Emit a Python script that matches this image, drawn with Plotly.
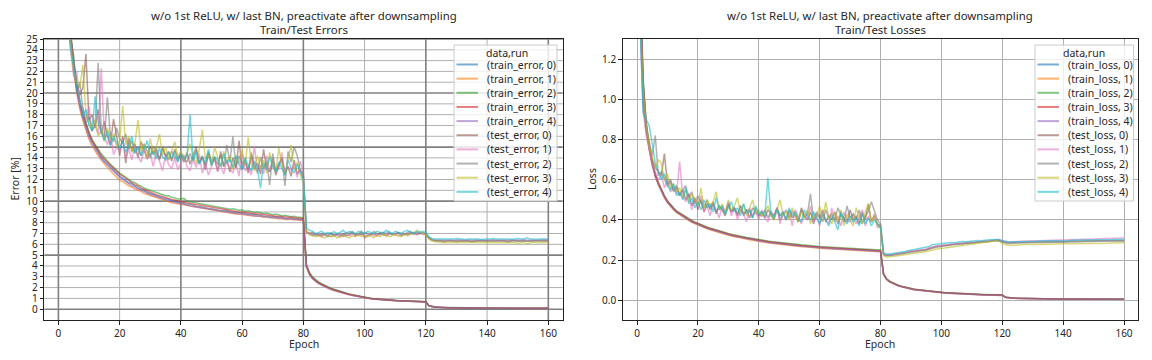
import plotly.graph_objects as go

# ---------------- data ----------------
epochs = list(range(1, 161))

tr_err_0 = [55.2, 38.3, 29.8, 25.2, 22.4, 20.4, 18.9, 17.8, 16.9, 16.1, 15.5, 15.0, 14.5, 14.1, 13.7, 13.4, 13.1, 12.8, 12.6, 12.3,
            12.1, 11.9, 11.7, 11.6, 11.4, 11.2, 11.1, 11.0, 10.8, 10.7, 10.6, 10.5, 10.4, 10.3, 10.2, 10.2, 10.0, 10.0, 9.9, 9.8,
            9.82, 9.7, 9.72, 9.6, 9.52, 9.5, 9.42, 9.4, 9.32, 9.3, 9.22, 9.2, 9.12, 9.1, 9.1, 9.02, 9.0, 8.92, 8.9, 8.9,
            8.82, 8.8, 8.8, 8.72, 8.7, 8.7, 8.62, 8.6, 8.6, 8.52, 8.5, 8.5, 8.48, 8.4, 8.42, 8.4, 8.38, 8.3, 8.32, 8.3,
            4.1, 3.3, 2.9, 2.65, 2.45, 2.3, 2.15, 2.0, 1.9, 1.8, 1.7, 1.6, 1.52, 1.44, 1.37, 1.3, 1.24, 1.18, 1.12, 1.07,
            1.03, 0.99, 0.95, 0.92, 0.9, 0.88, 0.85, 0.83, 0.82, 0.8, 0.79, 0.77, 0.76, 0.75, 0.73, 0.72, 0.71, 0.7, 0.69, 0.68,
            0.32, 0.24, 0.2, 0.18, 0.16, 0.15, 0.14, 0.13, 0.13, 0.12, 0.12, 0.11, 0.11, 0.11, 0.1, 0.1, 0.1, 0.1, 0.1, 0.09,
            0.09, 0.09, 0.09, 0.09, 0.09, 0.09, 0.09, 0.08, 0.08, 0.08, 0.08, 0.08, 0.08, 0.08, 0.08, 0.08, 0.08, 0.08, 0.08, 0.08]
tr_err_1 = [54.5, 37.6, 29.2, 24.7, 22.0, 20.0, 18.5, 17.4, 16.5, 15.7, 15.1, 14.6, 14.2, 13.8, 13.4, 13.1, 12.8, 12.5, 12.2, 11.9,
            11.8, 11.6, 11.4, 11.3, 11.1, 11.0, 10.9, 10.7, 10.6, 10.5, 10.4, 10.3, 10.2, 10.1, 10.0, 9.95, 9.85, 9.8, 9.75, 9.7,
            9.6, 9.55, 9.5, 9.45, 9.4, 9.35, 9.3, 9.25, 9.2, 9.15, 9.1, 9.05, 9.0, 9.0, 8.95, 8.9, 8.85, 8.8, 8.8, 8.75,
            8.7, 8.7, 8.65, 8.6, 8.65, 8.55, 8.5, 8.55, 8.45, 8.45, 8.4, 8.35, 8.4, 8.3, 8.3, 8.35, 8.25, 8.3, 8.2, 8.25,
            3.9, 3.2, 2.85, 2.6, 2.4, 2.25, 2.1, 1.95, 1.85, 1.75, 1.65, 1.57, 1.49, 1.41, 1.34, 1.28, 1.22, 1.16, 1.1, 1.05,
            1.0, 0.97, 0.94, 0.91, 0.88, 0.86, 0.84, 0.82, 0.8, 0.79, 0.77, 0.76, 0.74, 0.73, 0.72, 0.71, 0.7, 0.69, 0.68, 0.67,
            0.31, 0.23, 0.19, 0.17, 0.15, 0.14, 0.13, 0.13, 0.12, 0.12, 0.11, 0.11, 0.1, 0.1, 0.1, 0.1, 0.09, 0.09, 0.09, 0.09,
            0.09, 0.09, 0.09, 0.08, 0.08, 0.08, 0.08, 0.08, 0.08, 0.08, 0.08, 0.08, 0.08, 0.07, 0.07, 0.07, 0.07, 0.07, 0.07, 0.07]
tr_err_2 = [55.8, 38.8, 30.2, 25.6, 22.8, 20.7, 19.2, 18.1, 17.2, 16.4, 15.7, 15.2, 14.8, 14.4, 14.0, 13.7, 13.4, 13.1, 12.8, 12.6,
            12.4, 12.2, 12.0, 11.8, 11.7, 11.5, 11.4, 11.2, 11.1, 11.0, 10.9, 10.8, 10.7, 10.6, 10.5, 10.5, 10.35, 10.3, 10.2, 10.2,
            10.25, 10.0, 9.95, 9.9, 9.85, 9.75, 9.75, 9.65, 9.6, 9.6, 9.5, 9.5, 9.4, 9.35, 9.35, 9.25, 9.3, 9.2, 9.15, 9.2,
            9.05, 9.1, 9.0, 8.95, 9.0, 8.9, 8.85, 8.9, 8.8, 8.75, 8.8, 8.7, 8.65, 8.7, 8.6, 8.55, 8.6, 8.5, 8.5, 8.45,
            4.1, 3.4, 3.0, 2.7, 2.5, 2.35, 2.2, 2.05, 1.95, 1.85, 1.75, 1.65, 1.56, 1.48, 1.4, 1.33, 1.27, 1.21, 1.15, 1.1,
            1.05, 1.01, 0.97, 0.95, 0.92, 0.9, 0.88, 0.86, 0.84, 0.83, 0.81, 0.8, 0.78, 0.77, 0.76, 0.75, 0.74, 0.73, 0.72, 0.71,
            0.33, 0.25, 0.21, 0.18, 0.17, 0.16, 0.15, 0.14, 0.13, 0.13, 0.12, 0.12, 0.11, 0.11, 0.11, 0.1, 0.1, 0.1, 0.1, 0.1,
            0.09, 0.09, 0.09, 0.09, 0.09, 0.09, 0.09, 0.09, 0.09, 0.08, 0.08, 0.08, 0.08, 0.08, 0.08, 0.08, 0.08, 0.08, 0.08, 0.08]
tr_err_3 = [55.5, 38.5, 30.0, 25.4, 22.6, 20.6, 19.1, 18.0, 17.1, 16.3, 15.6, 15.1, 14.6, 14.2, 13.9, 13.6, 13.3, 13.0, 12.7, 12.5,
            12.3, 12.1, 11.9, 11.7, 11.5, 11.4, 11.2, 11.1, 10.95, 10.85, 10.7, 10.6, 10.5, 10.45, 10.3, 10.25, 10.15, 10.1, 10.0, 9.95,
            9.9, 9.85, 9.75, 9.7, 9.65, 9.6, 9.55, 9.5, 9.45, 9.4, 9.35, 9.3, 9.25, 9.25, 9.15, 9.15, 9.1, 9.05, 9.0, 9.0,
            8.95, 8.9, 8.9, 8.85, 8.8, 8.8, 8.75, 8.7, 8.7, 8.65, 8.6, 8.6, 8.55, 8.55, 8.5, 8.5, 8.45, 8.45, 8.4, 8.4,
            4.0, 3.3, 2.9, 2.65, 2.45, 2.3, 2.15, 2.0, 1.9, 1.8, 1.7, 1.61, 1.53, 1.45, 1.38, 1.31, 1.25, 1.19, 1.13, 1.08,
            1.03, 0.99, 0.96, 0.93, 0.9, 0.88, 0.86, 0.84, 0.82, 0.8, 0.79, 0.77, 0.76, 0.75, 0.74, 0.73, 0.72, 0.71, 0.7, 0.69,
            0.32, 0.24, 0.2, 0.18, 0.16, 0.15, 0.14, 0.13, 0.13, 0.12, 0.12, 0.11, 0.11, 0.1, 0.1, 0.1, 0.1, 0.1, 0.09, 0.09,
            0.09, 0.09, 0.09, 0.09, 0.09, 0.08, 0.08, 0.08, 0.08, 0.08, 0.08, 0.08, 0.08, 0.08, 0.08, 0.08, 0.08, 0.08, 0.08, 0.08]
tr_err_4 = [55.0, 38.0, 29.6, 25.0, 22.2, 20.2, 18.7, 17.6, 16.7, 15.9, 15.3, 14.8, 14.3, 13.9, 13.6, 13.3, 13.0, 12.7, 12.4, 12.2,
            12.0, 11.8, 11.6, 11.4, 11.3, 11.1, 11.0, 10.9, 10.75, 10.6, 10.5, 10.4, 10.3, 10.2, 10.15, 10.05, 9.95, 9.9, 9.8, 9.75,
            9.7, 9.6, 9.55, 9.5, 9.45, 9.4, 9.35, 9.3, 9.25, 9.2, 9.15, 9.1, 9.05, 9.0, 9.0, 8.95, 8.9, 8.85, 8.8, 8.8,
            8.75, 8.7, 8.7, 8.65, 8.6, 8.6, 8.55, 8.5, 8.5, 8.45, 8.45, 8.4, 8.4, 8.35, 8.35, 8.3, 8.3, 8.3, 8.25, 8.25,
            3.9, 3.2, 2.8, 2.55, 2.35, 2.2, 2.05, 1.92, 1.82, 1.72, 1.63, 1.55, 1.47, 1.4, 1.33, 1.27, 1.21, 1.15, 1.1, 1.05,
            1.0, 0.96, 0.93, 0.9, 0.88, 0.85, 0.83, 0.81, 0.8, 0.78, 0.77, 0.75, 0.74, 0.73, 0.72, 0.7, 0.69, 0.68, 0.67, 0.66,
            0.3, 0.23, 0.19, 0.17, 0.15, 0.14, 0.13, 0.12, 0.12, 0.11, 0.11, 0.1, 0.1, 0.1, 0.1, 0.09, 0.09, 0.09, 0.09, 0.09,
            0.09, 0.08, 0.08, 0.08, 0.08, 0.08, 0.08, 0.08, 0.08, 0.08, 0.08, 0.07, 0.07, 0.07, 0.07, 0.07, 0.07, 0.07, 0.07, 0.07]

te_err_0 = [48.0, 33.5, 27.0, 25.5, 23.0, 21.0, 19.8, 20.5, 23.6, 17.5, 18.0, 16.8, 18.5, 16.2, 17.4, 16.0, 15.2, 17.6, 16.1, 14.2,
            16.0, 13.5, 15.8, 14.6, 15.3, 14.0, 15.5, 14.8, 13.9, 15.1, 14.3, 14.9, 13.8, 15.0, 14.1, 14.6, 13.7, 14.8, 14.0, 14.3,
            13.6, 14.5, 13.4, 14.2, 15.0, 13.5, 14.1, 12.9, 14.4, 13.3, 13.9, 12.8, 14.6, 13.2, 13.8, 12.7, 14.0, 13.1, 15.6, 12.9,
            13.7, 12.6, 14.2, 13.0, 13.5, 12.5, 14.8, 13.1, 12.7, 13.9, 12.4, 13.3, 14.0, 12.6, 13.2, 12.3, 13.8, 12.5, 12.9, 12.2,
            7.2, 7.0, 7.1, 6.9, 6.8, 7.0, 6.9, 6.7, 7.0, 6.8, 6.9, 6.7, 7.0, 6.8, 6.9, 7.1, 6.8, 6.9, 7.2, 6.6,
            6.8, 6.9, 7.0, 6.8, 7.1, 6.9, 6.8, 7.0, 7.0, 6.9, 7.1, 6.8, 7.0, 6.9, 7.0, 7.1, 6.9, 7.0, 7.0, 6.9,
            6.6, 6.4, 6.3, 6.35, 6.3, 6.25, 6.3, 6.35, 6.3, 6.25, 6.3, 6.3, 6.35, 6.3, 6.25, 6.3, 6.3, 6.35, 6.3, 6.3,
            6.25, 6.3, 6.3, 6.35, 6.3, 6.3, 6.25, 6.3, 6.35, 6.3, 6.3, 6.3, 6.25, 6.3, 6.3, 6.35, 6.3, 6.3, 6.3, 6.3]
te_err_1 = [46.0, 32.0, 26.5, 24.0, 21.5, 22.0, 19.0, 18.6, 17.5, 18.8, 16.5, 17.0, 16.2, 22.3, 16.0, 15.2, 16.4, 14.3, 15.0, 14.6,
            15.8, 14.0, 14.8, 13.8, 15.2, 14.1, 13.6, 14.7, 13.9, 14.4, 13.2, 14.6, 13.8, 12.8, 14.2, 13.4, 13.0, 14.0, 12.9, 13.5,
            14.3, 13.2, 12.8, 13.9, 13.1, 14.4, 12.6, 13.6, 12.4, 13.2, 14.1, 12.7, 13.4, 12.5, 13.8, 13.0, 12.6, 13.5, 12.3, 14.4,
            12.8, 13.1, 12.4, 15.1, 12.9, 13.3, 12.5, 14.2, 12.7, 13.6, 12.6, 13.0, 14.5, 12.4, 13.2, 12.8, 13.5, 12.2, 13.7, 12.5,
            7.1, 7.0, 6.9, 6.8, 7.0, 6.7, 6.9, 6.8, 6.7, 6.9, 6.8, 7.0, 6.7, 6.9, 6.8, 6.9, 7.0, 6.8, 6.9, 6.8,
            7.0, 6.9, 6.8, 7.0, 6.9, 7.1, 6.8, 6.9, 7.0, 6.9, 6.8, 7.0, 7.0, 6.9, 7.1, 6.9, 7.0, 7.1, 6.9, 6.9,
            6.6, 6.45, 6.4, 6.4, 6.35, 6.4, 6.4, 6.35, 6.4, 6.4, 6.45, 6.4, 6.35, 6.4, 6.4, 6.45, 6.4, 6.4, 6.35, 6.4,
            6.4, 6.45, 6.4, 6.4, 6.4, 6.35, 6.4, 6.45, 6.4, 6.4, 6.4, 6.45, 6.4, 6.4, 6.35, 6.4, 6.4, 6.45, 6.4, 6.4]
te_err_2 = [49.0, 34.0, 28.0, 25.0, 23.5, 20.0, 21.0, 18.5, 17.2, 17.8, 16.5, 17.0, 22.8, 16.6, 15.8, 19.6, 16.0, 15.5, 16.8, 15.8,
            15.4, 16.2, 14.8, 15.6, 14.5, 15.0, 14.2, 15.3, 14.6, 14.0, 15.1, 14.4, 13.9, 14.8, 14.3, 13.8, 14.6, 14.1, 13.7, 14.5,
            14.0, 13.6, 14.4, 13.8, 14.7, 13.5, 14.2, 13.3, 14.6, 13.7, 14.0, 13.4, 14.3, 13.2, 15.2, 13.6, 16.0, 13.1, 14.2, 13.5,
            13.8, 12.9, 14.5, 13.3, 12.6, 14.1, 13.0, 13.7, 11.5, 14.4, 12.8, 13.4, 14.0, 11.4, 14.6, 13.6, 15.0, 14.2, 12.8, 12.6,
            7.1, 7.0, 6.8, 7.0, 6.9, 6.8, 7.0, 6.9, 7.1, 6.8, 7.0, 6.9, 6.8, 7.1, 7.0, 7.2, 6.9, 7.0, 6.9, 7.1,
            7.0, 6.9, 7.2, 7.0, 6.9, 7.1, 7.0, 7.2, 6.9, 7.0, 7.1, 7.0, 6.9, 7.1, 7.2, 7.0, 7.1, 7.0, 7.1, 7.0,
            6.6, 6.4, 6.35, 6.3, 6.35, 6.3, 6.3, 6.35, 6.3, 6.35, 6.3, 6.3, 6.35, 6.3, 6.3, 6.35, 6.3, 6.3, 6.35, 6.3,
            6.3, 6.35, 6.3, 6.3, 6.35, 6.3, 6.3, 6.35, 6.3, 6.3, 6.3, 6.35, 6.3, 6.3, 6.35, 6.3, 6.3, 6.3, 6.35, 6.35]
te_err_3 = [47.0, 33.0, 27.5, 24.5, 22.0, 21.0, 20.5, 22.6, 18.0, 17.2, 16.8, 17.5, 16.0, 16.6, 15.5, 16.8, 15.8, 16.2, 15.0, 15.6,
            18.8, 15.2, 16.0, 14.5, 15.4, 17.5, 14.6, 15.2, 14.0, 15.8, 14.4, 15.0, 16.2, 14.2, 15.0, 13.9, 14.7, 15.5, 14.2, 14.6,
            13.8, 14.4, 15.3, 14.1, 13.5, 14.8, 16.6, 13.9, 14.3, 13.4, 15.0, 14.0, 13.2, 14.6, 13.6, 14.2, 12.9, 14.0, 13.5, 14.8,
            13.3, 15.9, 13.6, 12.8, 14.2, 13.0, 13.8, 12.6, 14.5, 13.2, 12.7, 14.9, 13.4, 12.5, 13.9, 15.2, 12.9, 13.6, 12.4, 11.8,
            7.1, 6.9, 6.8, 6.7, 6.8, 6.7, 6.6, 6.8, 6.7, 6.8, 6.6, 6.7, 6.8, 6.7, 6.6, 6.8, 6.7, 6.9, 6.7, 6.8,
            6.7, 6.8, 6.6, 6.8, 6.7, 6.9, 6.8, 6.7, 6.8, 6.9, 6.8, 6.7, 6.9, 6.8, 6.9, 7.0, 7.3, 7.2, 7.0, 6.9,
            6.5, 6.3, 6.25, 6.2, 6.2, 6.15, 6.2, 6.2, 6.15, 6.2, 6.2, 6.15, 6.2, 6.2, 6.2, 6.15, 6.2, 6.15, 6.2, 6.2,
            6.15, 6.2, 6.2, 6.15, 6.2, 6.2, 6.15, 6.2, 6.15, 6.1, 6.15, 6.2, 6.05, 6.15, 6.2, 6.15, 6.2, 6.15, 6.15, 6.2]
te_err_4 = [47.5, 33.5, 27.0, 24.0, 22.5, 20.5, 19.5, 17.8, 18.5, 17.0, 16.5, 19.7, 17.2, 16.3, 15.6, 16.5, 15.1, 16.0, 15.4, 14.8,
            15.6, 14.5, 15.2, 16.0, 14.4, 15.0, 14.2, 14.8, 15.6, 14.3, 14.6, 13.9, 14.9, 14.1, 13.8, 14.5, 14.0, 14.6, 13.6, 14.3,
            13.9, 14.2, 18.0, 13.7, 14.5, 13.4, 14.0, 13.6, 14.8, 13.3, 14.1, 13.8, 13.2, 14.4, 13.5, 13.9, 13.1, 14.2, 13.4, 12.9,
            14.0, 13.3, 12.8, 13.7, 13.0, 11.2, 13.5, 12.9, 14.1, 13.2, 12.7, 13.6, 13.0, 12.4, 13.8, 13.1, 12.6, 13.4, 12.7, 12.0,
            7.5, 7.3, 7.2, 7.0, 7.1, 7.2, 7.0, 7.1, 6.9, 7.2, 7.0, 7.1, 7.3, 7.0, 7.2, 7.1, 7.0, 7.2, 7.1, 7.0,
            7.2, 7.1, 7.0, 7.2, 7.1, 7.0, 7.3, 7.1, 7.0, 7.2, 7.1, 7.0, 7.2, 7.3, 7.1, 7.0, 7.2, 7.1, 7.2, 7.1,
            6.7, 6.55, 6.5, 6.5, 6.45, 6.5, 6.5, 6.45, 6.5, 6.55, 6.5, 6.5, 6.45, 6.5, 6.5, 6.55, 6.5, 6.45, 6.5, 6.5,
            6.5, 6.55, 6.5, 6.5, 6.55, 6.5, 6.5, 6.45, 6.5, 6.55, 6.5, 6.5, 6.6, 6.5, 6.5, 6.45, 6.5, 6.5, 6.55, 6.5]

tr_loss_0 = [1.58, 1.08, 0.87, 0.76, 0.68, 0.62, 0.58, 0.545, 0.515, 0.49, 0.47, 0.455, 0.44, 0.43, 0.42, 0.41, 0.40, 0.392, 0.385, 0.378,
             0.372, 0.366, 0.36, 0.355, 0.35, 0.345, 0.34, 0.336, 0.332, 0.328, 0.324, 0.32, 0.317, 0.314, 0.311, 0.308, 0.305, 0.302, 0.30, 0.297,
             0.295, 0.292, 0.29, 0.288, 0.286, 0.284, 0.282, 0.28, 0.278, 0.277, 0.275, 0.274, 0.272, 0.271, 0.27, 0.268, 0.267, 0.266, 0.265, 0.263,
             0.262, 0.261, 0.26, 0.259, 0.258, 0.257, 0.256, 0.255, 0.254, 0.253, 0.252, 0.251, 0.25, 0.25, 0.249, 0.248, 0.247, 0.247, 0.246, 0.245,
             0.13, 0.105, 0.093, 0.085, 0.078, 0.072, 0.068, 0.064, 0.06, 0.057, 0.054, 0.052, 0.05, 0.048, 0.046, 0.044, 0.043, 0.041, 0.04, 0.038,
             0.037, 0.036, 0.035, 0.034, 0.033, 0.032, 0.031, 0.031, 0.03, 0.029, 0.029, 0.028, 0.028, 0.027, 0.027, 0.026, 0.026, 0.025, 0.025, 0.025,
             0.015, 0.012, 0.011, 0.010, 0.0095, 0.009, 0.0085, 0.008, 0.008, 0.0078, 0.0075, 0.0073, 0.007, 0.007, 0.0068, 0.0066, 0.0065, 0.0064, 0.0063, 0.0062,
             0.0061, 0.006, 0.006, 0.0059, 0.0059, 0.0058, 0.0058, 0.0057, 0.0057, 0.0057, 0.0056, 0.0056, 0.0056, 0.0055, 0.0055, 0.0055, 0.0055, 0.0054, 0.0054, 0.0054]
tr_loss_1 = [1.55, 1.06, 0.86, 0.75, 0.67, 0.615, 0.575, 0.54, 0.51, 0.485, 0.465, 0.45, 0.436, 0.425, 0.415, 0.405, 0.396, 0.388, 0.381, 0.374,
             0.368, 0.362, 0.356, 0.351, 0.346, 0.341, 0.336, 0.332, 0.328, 0.324, 0.32, 0.316, 0.313, 0.31, 0.307, 0.304, 0.301, 0.298, 0.296, 0.293,
             0.291, 0.288, 0.286, 0.284, 0.282, 0.28, 0.278, 0.276, 0.274, 0.273, 0.271, 0.27, 0.268, 0.267, 0.266, 0.264, 0.263, 0.262, 0.261, 0.259,
             0.258, 0.257, 0.256, 0.255, 0.254, 0.253, 0.252, 0.251, 0.25, 0.249, 0.248, 0.247, 0.246, 0.246, 0.245, 0.244, 0.243, 0.243, 0.242, 0.241,
             0.128, 0.103, 0.091, 0.083, 0.076, 0.071, 0.067, 0.063, 0.059, 0.056, 0.053, 0.051, 0.049, 0.047, 0.045, 0.043, 0.042, 0.04, 0.039, 0.037,
             0.036, 0.035, 0.034, 0.033, 0.032, 0.031, 0.031, 0.03, 0.029, 0.029, 0.028, 0.028, 0.027, 0.027, 0.026, 0.026, 0.025, 0.025, 0.024, 0.024,
             0.014, 0.012, 0.0105, 0.0098, 0.0092, 0.0088, 0.0083, 0.0079, 0.0077, 0.0075, 0.0073, 0.0071, 0.0069, 0.0068, 0.0066, 0.0065, 0.0064, 0.0063, 0.0062, 0.0061,
             0.006, 0.0059, 0.0059, 0.0058, 0.0058, 0.0057, 0.0057, 0.0056, 0.0056, 0.0056, 0.0055, 0.0055, 0.0055, 0.0054, 0.0054, 0.0054, 0.0054, 0.0053, 0.0053, 0.0053]
tr_loss_2 = [1.62, 1.11, 0.89, 0.775, 0.69, 0.63, 0.587, 0.552, 0.521, 0.496, 0.475, 0.46, 0.445, 0.435, 0.425, 0.415, 0.405, 0.397, 0.39, 0.383,
             0.377, 0.371, 0.365, 0.36, 0.355, 0.35, 0.345, 0.341, 0.337, 0.333, 0.329, 0.325, 0.322, 0.319, 0.316, 0.313, 0.31, 0.307, 0.305, 0.302,
             0.3, 0.297, 0.295, 0.293, 0.291, 0.289, 0.287, 0.285, 0.283, 0.282, 0.28, 0.279, 0.277, 0.276, 0.275, 0.273, 0.272, 0.271, 0.27, 0.268,
             0.267, 0.266, 0.265, 0.264, 0.263, 0.262, 0.261, 0.26, 0.259, 0.258, 0.257, 0.256, 0.255, 0.255, 0.254, 0.253, 0.252, 0.252, 0.251, 0.25,
             0.132, 0.107, 0.095, 0.087, 0.08, 0.074, 0.07, 0.066, 0.062, 0.059, 0.056, 0.054, 0.052, 0.05, 0.048, 0.046, 0.045, 0.043, 0.042, 0.04,
             0.039, 0.038, 0.037, 0.036, 0.035, 0.034, 0.033, 0.033, 0.032, 0.031, 0.031, 0.03, 0.03, 0.029, 0.029, 0.028, 0.028, 0.027, 0.027, 0.027,
             0.016, 0.013, 0.0115, 0.0105, 0.0099, 0.0094, 0.0089, 0.0084, 0.0083, 0.008, 0.0078, 0.0076, 0.0073, 0.0072, 0.007, 0.0069, 0.0068, 0.0067, 0.0066, 0.0065,
             0.0064, 0.0063, 0.0062, 0.0062, 0.0061, 0.0061, 0.006, 0.006, 0.0059, 0.0059, 0.0058, 0.0058, 0.0058, 0.0057, 0.0057, 0.0057, 0.0057, 0.0056, 0.0056, 0.0056]
tr_loss_3 = [1.60, 1.09, 0.88, 0.765, 0.685, 0.625, 0.583, 0.548, 0.518, 0.493, 0.472, 0.457, 0.442, 0.432, 0.422, 0.412, 0.402, 0.394, 0.387, 0.38,
             0.374, 0.368, 0.362, 0.357, 0.352, 0.347, 0.342, 0.338, 0.334, 0.33, 0.326, 0.322, 0.319, 0.316, 0.313, 0.31, 0.307, 0.304, 0.302, 0.299,
             0.297, 0.294, 0.292, 0.29, 0.288, 0.286, 0.284, 0.282, 0.28, 0.279, 0.277, 0.276, 0.274, 0.273, 0.272, 0.27, 0.269, 0.268, 0.267, 0.265,
             0.264, 0.263, 0.262, 0.261, 0.26, 0.259, 0.258, 0.257, 0.256, 0.255, 0.254, 0.253, 0.252, 0.252, 0.251, 0.25, 0.249, 0.249, 0.248, 0.247,
             0.131, 0.106, 0.094, 0.086, 0.079, 0.073, 0.069, 0.065, 0.061, 0.058, 0.055, 0.053, 0.051, 0.049, 0.047, 0.045, 0.044, 0.042, 0.041, 0.039,
             0.038, 0.037, 0.036, 0.035, 0.034, 0.033, 0.032, 0.032, 0.031, 0.03, 0.03, 0.029, 0.029, 0.028, 0.028, 0.027, 0.027, 0.026, 0.026, 0.026,
             0.0155, 0.0125, 0.0112, 0.0102, 0.0097, 0.0092, 0.0087, 0.0082, 0.0081, 0.0079, 0.0076, 0.0074, 0.0072, 0.0071, 0.0069, 0.0067, 0.0066, 0.0065, 0.0064, 0.0063,
             0.0062, 0.0061, 0.0061, 0.006, 0.006, 0.0059, 0.0059, 0.0058, 0.0058, 0.0058, 0.0057, 0.0057, 0.0057, 0.0056, 0.0056, 0.0056, 0.0056, 0.0055, 0.0055, 0.0055]
tr_loss_4 = [1.57, 1.07, 0.865, 0.755, 0.675, 0.618, 0.578, 0.543, 0.513, 0.488, 0.468, 0.452, 0.438, 0.428, 0.418, 0.408, 0.398, 0.39, 0.383, 0.376,
             0.37, 0.364, 0.358, 0.353, 0.348, 0.343, 0.338, 0.334, 0.33, 0.326, 0.322, 0.318, 0.315, 0.312, 0.309, 0.306, 0.303, 0.3, 0.298, 0.295,
             0.293, 0.29, 0.288, 0.286, 0.284, 0.282, 0.28, 0.278, 0.276, 0.275, 0.273, 0.272, 0.27, 0.269, 0.268, 0.266, 0.265, 0.264, 0.263, 0.261,
             0.26, 0.259, 0.258, 0.257, 0.256, 0.255, 0.254, 0.253, 0.252, 0.251, 0.25, 0.249, 0.248, 0.248, 0.247, 0.246, 0.245, 0.245, 0.244, 0.243,
             0.129, 0.104, 0.092, 0.084, 0.077, 0.071, 0.067, 0.063, 0.059, 0.056, 0.053, 0.051, 0.049, 0.047, 0.045, 0.043, 0.042, 0.04, 0.039, 0.037,
             0.036, 0.035, 0.034, 0.033, 0.032, 0.031, 0.03, 0.03, 0.029, 0.028, 0.028, 0.027, 0.027, 0.026, 0.026, 0.025, 0.025, 0.024, 0.024, 0.024,
             0.0145, 0.0118, 0.0108, 0.0098, 0.0093, 0.0088, 0.0083, 0.0078, 0.0078, 0.0076, 0.0073, 0.0071, 0.0069, 0.0068, 0.0066, 0.0065, 0.0064, 0.0063, 0.0062, 0.0061,
             0.006, 0.0059, 0.0059, 0.0058, 0.0058, 0.0057, 0.0057, 0.0056, 0.0056, 0.0056, 0.0055, 0.0055, 0.0055, 0.0054, 0.0054, 0.0054, 0.0054, 0.0053, 0.0053, 0.0053]

te_loss_0 = [1.42, 0.98, 0.84, 0.76, 0.70, 0.66, 0.64, 0.62, 0.73, 0.58, 0.60, 0.55, 0.57, 0.52, 0.55, 0.50, 0.53, 0.47, 0.51, 0.45,
             0.50, 0.44, 0.48, 0.46, 0.49, 0.43, 0.47, 0.45, 0.42, 0.48, 0.44, 0.46, 0.42, 0.47, 0.43, 0.45, 0.41, 0.46, 0.44, 0.42,
             0.44, 0.41, 0.45, 0.43, 0.40, 0.46, 0.42, 0.44, 0.40, 0.45, 0.41, 0.43, 0.39, 0.46, 0.42, 0.40, 0.44, 0.38, 0.43, 0.41,
             0.45, 0.39, 0.42, 0.40, 0.44, 0.38, 0.43, 0.41, 0.39, 0.45, 0.40, 0.42, 0.38, 0.44, 0.40, 0.48, 0.39, 0.42, 0.38, 0.37,
             0.230, 0.226, 0.225, 0.228, 0.230, 0.232, 0.235, 0.238, 0.240, 0.245, 0.244, 0.248, 0.250, 0.253, 0.252, 0.258, 0.265, 0.268, 0.270, 0.272,
             0.274, 0.275, 0.278, 0.277, 0.280, 0.282, 0.281, 0.285, 0.284, 0.287, 0.286, 0.290, 0.289, 0.292, 0.291, 0.295, 0.297, 0.300, 0.298, 0.292,
             0.288, 0.286, 0.287, 0.287, 0.288, 0.288, 0.289, 0.289, 0.290, 0.290, 0.290, 0.291, 0.291, 0.291, 0.292, 0.292, 0.292, 0.293, 0.293, 0.293,
             0.293, 0.294, 0.294, 0.294, 0.295, 0.295, 0.295, 0.295, 0.296, 0.296, 0.296, 0.296, 0.297, 0.297, 0.297, 0.297, 0.298, 0.298, 0.298, 0.298]
te_loss_1 = [1.38, 0.95, 0.82, 0.74, 0.68, 0.64, 0.60, 0.62, 0.56, 0.60, 0.54, 0.56, 0.53, 0.69, 0.52, 0.49, 0.53, 0.45, 0.50, 0.47,
             0.52, 0.44, 0.47, 0.42, 0.48, 0.45, 0.41, 0.47, 0.44, 0.49, 0.42, 0.46, 0.40, 0.45, 0.43, 0.39, 0.46, 0.42, 0.44, 0.40,
             0.45, 0.41, 0.39, 0.44, 0.42, 0.46, 0.38, 0.43, 0.40, 0.44, 0.37, 0.45, 0.41, 0.38, 0.43, 0.40, 0.47, 0.39, 0.42, 0.37,
             0.44, 0.40, 0.38, 0.46, 0.39, 0.42, 0.37, 0.44, 0.40, 0.39, 0.43, 0.38, 0.41, 0.45, 0.37, 0.42, 0.39, 0.43, 0.36, 0.38,
             0.228, 0.224, 0.224, 0.226, 0.228, 0.230, 0.233, 0.236, 0.240, 0.242, 0.245, 0.247, 0.250, 0.252, 0.255, 0.260, 0.266, 0.268, 0.270, 0.273,
             0.275, 0.277, 0.279, 0.280, 0.282, 0.284, 0.286, 0.285, 0.288, 0.290, 0.289, 0.292, 0.293, 0.295, 0.296, 0.298, 0.300, 0.303, 0.302, 0.296,
             0.292, 0.290, 0.291, 0.292, 0.292, 0.293, 0.293, 0.294, 0.295, 0.295, 0.296, 0.296, 0.297, 0.297, 0.298, 0.298, 0.299, 0.299, 0.300, 0.300,
             0.301, 0.301, 0.302, 0.302, 0.303, 0.303, 0.304, 0.304, 0.305, 0.305, 0.306, 0.306, 0.306, 0.307, 0.307, 0.308, 0.308, 0.309, 0.309, 0.310]
te_loss_2 = [1.50, 1.00, 0.86, 0.78, 0.72, 0.82, 0.62, 0.64, 0.60, 0.57, 0.59, 0.54, 0.56, 0.52, 0.55, 0.57, 0.51, 0.54, 0.48, 0.52,
             0.49, 0.46, 0.50, 0.45, 0.48, 0.44, 0.47, 0.45, 0.43, 0.48, 0.44, 0.46, 0.43, 0.47, 0.42, 0.45, 0.44, 0.41, 0.46, 0.43,
             0.42, 0.45, 0.41, 0.44, 0.42, 0.46, 0.40, 0.43, 0.45, 0.41, 0.44, 0.42, 0.39, 0.45, 0.41, 0.43, 0.53, 0.40, 0.44, 0.42,
             0.39, 0.45, 0.41, 0.43, 0.40, 0.46, 0.42, 0.39, 0.47, 0.41, 0.43, 0.40, 0.45, 0.38, 0.42, 0.44, 0.49, 0.45, 0.40, 0.38,
             0.226, 0.222, 0.222, 0.224, 0.226, 0.228, 0.230, 0.233, 0.236, 0.238, 0.240, 0.243, 0.246, 0.248, 0.250, 0.255, 0.260, 0.263, 0.265, 0.268,
             0.270, 0.272, 0.274, 0.276, 0.278, 0.280, 0.281, 0.283, 0.284, 0.286, 0.287, 0.289, 0.290, 0.291, 0.292, 0.294, 0.296, 0.298, 0.296, 0.290,
             0.285, 0.283, 0.284, 0.284, 0.285, 0.285, 0.286, 0.286, 0.286, 0.287, 0.287, 0.287, 0.288, 0.288, 0.288, 0.289, 0.289, 0.289, 0.290, 0.290,
             0.290, 0.290, 0.291, 0.291, 0.291, 0.291, 0.292, 0.292, 0.292, 0.292, 0.293, 0.293, 0.293, 0.293, 0.294, 0.294, 0.294, 0.294, 0.295, 0.295]
te_loss_3 = [1.45, 1.05, 0.88, 0.77, 0.71, 0.66, 0.70, 0.68, 0.60, 0.63, 0.56, 0.58, 0.54, 0.56, 0.51, 0.55, 0.49, 0.53, 0.50, 0.47,
             0.56, 0.46, 0.50, 0.47, 0.49, 0.54, 0.45, 0.48, 0.43, 0.50, 0.45, 0.47, 0.51, 0.44, 0.48, 0.42, 0.46, 0.50, 0.43, 0.45,
             0.42, 0.44, 0.47, 0.42, 0.40, 0.45, 0.50, 0.42, 0.44, 0.40, 0.46, 0.42, 0.39, 0.44, 0.41, 0.45, 0.38, 0.43, 0.41, 0.47,
             0.40, 0.49, 0.41, 0.38, 0.44, 0.39, 0.45, 0.37, 0.43, 0.40, 0.37, 0.46, 0.41, 0.38, 0.44, 0.48, 0.39, 0.42, 0.37, 0.36,
             0.222, 0.216, 0.216, 0.218, 0.220, 0.222, 0.224, 0.226, 0.228, 0.230, 0.232, 0.235, 0.237, 0.240, 0.243, 0.246, 0.250, 0.253, 0.256, 0.258,
             0.260, 0.263, 0.265, 0.267, 0.270, 0.272, 0.274, 0.276, 0.277, 0.279, 0.281, 0.283, 0.285, 0.287, 0.289, 0.291, 0.293, 0.296, 0.292, 0.282,
             0.276, 0.274, 0.275, 0.275, 0.276, 0.276, 0.277, 0.277, 0.277, 0.278, 0.278, 0.278, 0.279, 0.279, 0.279, 0.280, 0.280, 0.280, 0.280, 0.281,
             0.281, 0.281, 0.281, 0.282, 0.282, 0.282, 0.282, 0.283, 0.283, 0.283, 0.283, 0.284, 0.284, 0.284, 0.284, 0.285, 0.285, 0.285, 0.285, 0.286]
te_loss_4 = [1.40, 0.93, 0.90, 0.87, 0.78, 0.68, 0.64, 0.60, 0.63, 0.57, 0.55, 0.58, 0.52, 0.54, 0.50, 0.56, 0.48, 0.51, 0.46, 0.49,
             0.45, 0.50, 0.46, 0.48, 0.44, 0.51, 0.45, 0.47, 0.43, 0.46, 0.49, 0.44, 0.46, 0.42, 0.48, 0.43, 0.45, 0.41, 0.47, 0.43,
             0.44, 0.42, 0.61, 0.43, 0.41, 0.45, 0.42, 0.44, 0.40, 0.46, 0.42, 0.44, 0.41, 0.39, 0.45, 0.42, 0.40, 0.44, 0.41, 0.38,
             0.43, 0.40, 0.37, 0.42, 0.39, 0.35, 0.44, 0.40, 0.38, 0.42, 0.39, 0.41, 0.37, 0.43, 0.38, 0.41, 0.37, 0.40, 0.38, 0.36,
             0.236, 0.230, 0.230, 0.232, 0.234, 0.236, 0.240, 0.243, 0.246, 0.249, 0.251, 0.254, 0.257, 0.260, 0.263, 0.268, 0.276, 0.278, 0.280, 0.282,
             0.284, 0.285, 0.287, 0.286, 0.289, 0.290, 0.292, 0.291, 0.293, 0.295, 0.294, 0.297, 0.296, 0.299, 0.300, 0.301, 0.302, 0.305, 0.303, 0.296,
             0.292, 0.290, 0.291, 0.291, 0.292, 0.292, 0.293, 0.293, 0.294, 0.294, 0.294, 0.295, 0.295, 0.296, 0.296, 0.296, 0.297, 0.297, 0.297, 0.298,
             0.298, 0.298, 0.299, 0.299, 0.299, 0.300, 0.300, 0.300, 0.301, 0.301, 0.301, 0.301, 0.302, 0.302, 0.302, 0.302, 0.303, 0.303, 0.303, 0.303]

err_names = ["(train_error, 0)", "(train_error, 1)", "(train_error, 2)", "(train_error, 3)", "(train_error, 4)",
             "(test_error, 0)", "(test_error, 1)", "(test_error, 2)", "(test_error, 3)", "(test_error, 4)"]
loss_names = ["(train_loss, 0)", "(train_loss, 1)", "(train_loss, 2)", "(train_loss, 3)", "(train_loss, 4)",
              "(test_loss, 0)", "(test_loss, 1)", "(test_loss, 2)", "(test_loss, 3)", "(test_loss, 4)"]
err_series = [tr_err_0, tr_err_1, tr_err_2, tr_err_3, tr_err_4, te_err_0, te_err_1, te_err_2, te_err_3, te_err_4]
loss_series = [tr_loss_0, tr_loss_1, tr_loss_2, tr_loss_3, tr_loss_4, te_loss_0, te_loss_1, te_loss_2, te_loss_3, te_loss_4]

colors = ["#1f77b4", "#ff7f0e", "#2ca02c", "#d62728", "#9467bd",
          "#8c564b", "#e377c2", "#7f7f7f", "#bcbd22", "#17becf"]

title_line1 = "w/o 1st ReLU, w/ last BN, preactivate after downsampling"
titles_line2 = ["Train/Test Errors", "Train/Test Losses"]

# ---------------- layout helpers (pixel geometry) ----------------
W, H = 1152, 360
FONT = "Noto Sans"
TXT = "#262626"
ALPHA = 0.6


def rgba(hexc, a):
    h = hexc.lstrip("#")
    return "rgba(%d,%d,%d,%.2f)" % (int(h[0:2], 16), int(h[2:4], 16), int(h[4:6], 16), a)


def fx(p):
    return p / W


def fy(p):
    return 1 - p / H


ax_l = (44.3, 562.7)
ax_r = (622.7, 1138.0)
ax_t, ax_b = 39.0, 320.0

fig = go.Figure()
for i, (name, ys) in enumerate(zip(err_names, err_series)):
    fig.add_trace(go.Scatter(x=epochs, y=ys, mode="lines", name=name,
                             line=dict(color=rgba(colors[i], ALPHA), width=1.5),
                             xaxis="x", yaxis="y", showlegend=False))
for i, (name, ys) in enumerate(zip(loss_names, loss_series)):
    fig.add_trace(go.Scatter(x=epochs, y=ys, mode="lines", name=name,
                             line=dict(color=rgba(colors[i], ALPHA), width=1.5),
                             xaxis="x2", yaxis="y2", showlegend=False))

shapes = []
x_ticks = list(range(0, 161, 20))
y_ticks_l = list(range(0, 26))
for v in x_ticks:
    if v % 40:
        shapes.append(dict(type="line", xref="x", yref="y domain", x0=v, x1=v, y0=0, y1=1,
                           line=dict(color="#b0b0b0", width=1), layer="below"))
for v in y_ticks_l:
    if v % 5:
        shapes.append(dict(type="line", xref="x domain", yref="y", x0=0, x1=1, y0=v, y1=v,
                           line=dict(color="#b0b0b0", width=1), layer="below"))
for v in x_ticks:
    if v % 40 == 0:
        shapes.append(dict(type="line", xref="x", yref="y domain", x0=v, x1=v, y0=0, y1=1,
                           line=dict(color="#808080", width=1.6), layer="below"))
for v in y_ticks_l:
    if v % 5 == 0:
        shapes.append(dict(type="line", xref="x domain", yref="y", x0=0, x1=1, y0=v, y1=v,
                           line=dict(color="#808080", width=1.6), layer="below"))

annotations = []
LEG_SIZE = 10.5


def add_legend(box, title_x, sample_x, text_x, names):
    x0, x1, y0, y1 = box
    shapes.append(dict(type="rect", xref="paper", yref="paper", x0=fx(x0), x1=fx(x1), y0=fy(y1), y1=fy(y0),
                       fillcolor="rgba(255,255,255,0.8)", line=dict(color="#cccccc", width=1), layer="above"))
    annotations.append(dict(text="data,run", xref="paper", yref="paper", x=fx(title_x), y=fy(52.5),
                            xanchor="center", yanchor="middle", showarrow=False,
                            font=dict(family=FONT, size=LEG_SIZE, color=TXT)))
    for k, nm in enumerate(names):
        yc = 64.5 + 14.15 * k
        shapes.append(dict(type="line", xref="paper", yref="paper", x0=fx(sample_x[0]), x1=fx(sample_x[1]),
                           y0=fy(yc), y1=fy(yc), line=dict(color=rgba(colors[k], ALPHA), width=2), layer="above"))
        annotations.append(dict(text=nm, xref="paper", yref="paper", x=fx(text_x), y=fy(yc),
                                xanchor="left", yanchor="middle", showarrow=False,
                                font=dict(family=FONT, size=LEG_SIZE, color=TXT)))


add_legend((454, 557, 45, 201), 507, (456.5, 478), 484.5, err_names)
add_legend((1035, 1133.5, 45, 201), 1084, (1037.5, 1059), 1065.5, loss_names)

for (a0, a1), l2 in zip([ax_l, ax_r], titles_line2):
    cx = (a0 + a1) / 2
    annotations.append(dict(text=title_line1, xref="paper", yref="paper", x=fx(cx), y=fy(15.5),
                            xanchor="center", yanchor="middle", showarrow=False,
                            font=dict(family=FONT, size=11.4, color=TXT)))
    annotations.append(dict(text=l2, xref="paper", yref="paper", x=fx(cx), y=fy(29.5),
                            xanchor="center", yanchor="middle", showarrow=False,
                            font=dict(family=FONT, size=11.4, color=TXT)))
    annotations.append(dict(text="Epoch", xref="paper", yref="paper", x=fx(cx), y=fy(343.5),
                            xanchor="center", yanchor="middle", showarrow=False,
                            font=dict(family=FONT, size=10.5, color=TXT)))
annotations.append(dict(text="Error [%]", xref="paper", yref="paper", x=fx(14), y=fy((ax_t + ax_b) / 2),
                        xanchor="center", yanchor="middle", textangle=-90, showarrow=False,
                        font=dict(family=FONT, size=10.5, color=TXT)))
annotations.append(dict(text="Loss", xref="paper", yref="paper", x=fx(591.5), y=fy((ax_t + ax_b) / 2),
                        xanchor="center", yanchor="middle", textangle=-90, showarrow=False,
                        font=dict(family=FONT, size=10.5, color=TXT)))

common_axis = dict(showline=True, linecolor="#222222", linewidth=1, mirror=True,
                   ticks="outside", ticklen=3.5, tickwidth=1, tickcolor="#222222",
                   zeroline=False, automargin=False, tickfont=dict(family=FONT, size=10, color=TXT))

y_ticks_r = [0.0, 0.2, 0.4, 0.6, 0.8, 1.0, 1.2]

fig.update_layout(
    template="none",
    width=W, height=H, autosize=False,
    margin=dict(l=0, r=0, t=0, b=0, pad=0),
    paper_bgcolor="white", plot_bgcolor="white",
    font=dict(family=FONT, size=10, color=TXT),
    showlegend=False,
    xaxis=dict(domain=[fx(ax_l[0]), fx(ax_l[1])], anchor="y", range=[-4.6, 164.7],
               tickvals=x_ticks, showgrid=False, **common_axis),
    yaxis=dict(domain=[fy(ax_b), fy(ax_t)], anchor="x", range=[-1, 25],
               tickvals=y_ticks_l, showgrid=False, **common_axis),
    xaxis2=dict(domain=[fx(ax_r[0]), fx(ax_r[1])], anchor="y2", range=[-4.7, 164.6],
                tickvals=x_ticks, showgrid=True, gridcolor="#b0b0b0", gridwidth=1, **common_axis),
    yaxis2=dict(domain=[fy(ax_b), fy(ax_t)], anchor="x2", range=[-0.098, 1.3],
                tickvals=y_ticks_r, ticktext=["%.1f" % v for v in y_ticks_r],
                showgrid=True, gridcolor="#b0b0b0", gridwidth=1, **common_axis),
    shapes=shapes,
    annotations=annotations,
)

fig.write_html("out.html",
               config={"displayModeBar": False},
               post_script="document.body.style.margin='0';document.body.style.overflow='hidden';")
